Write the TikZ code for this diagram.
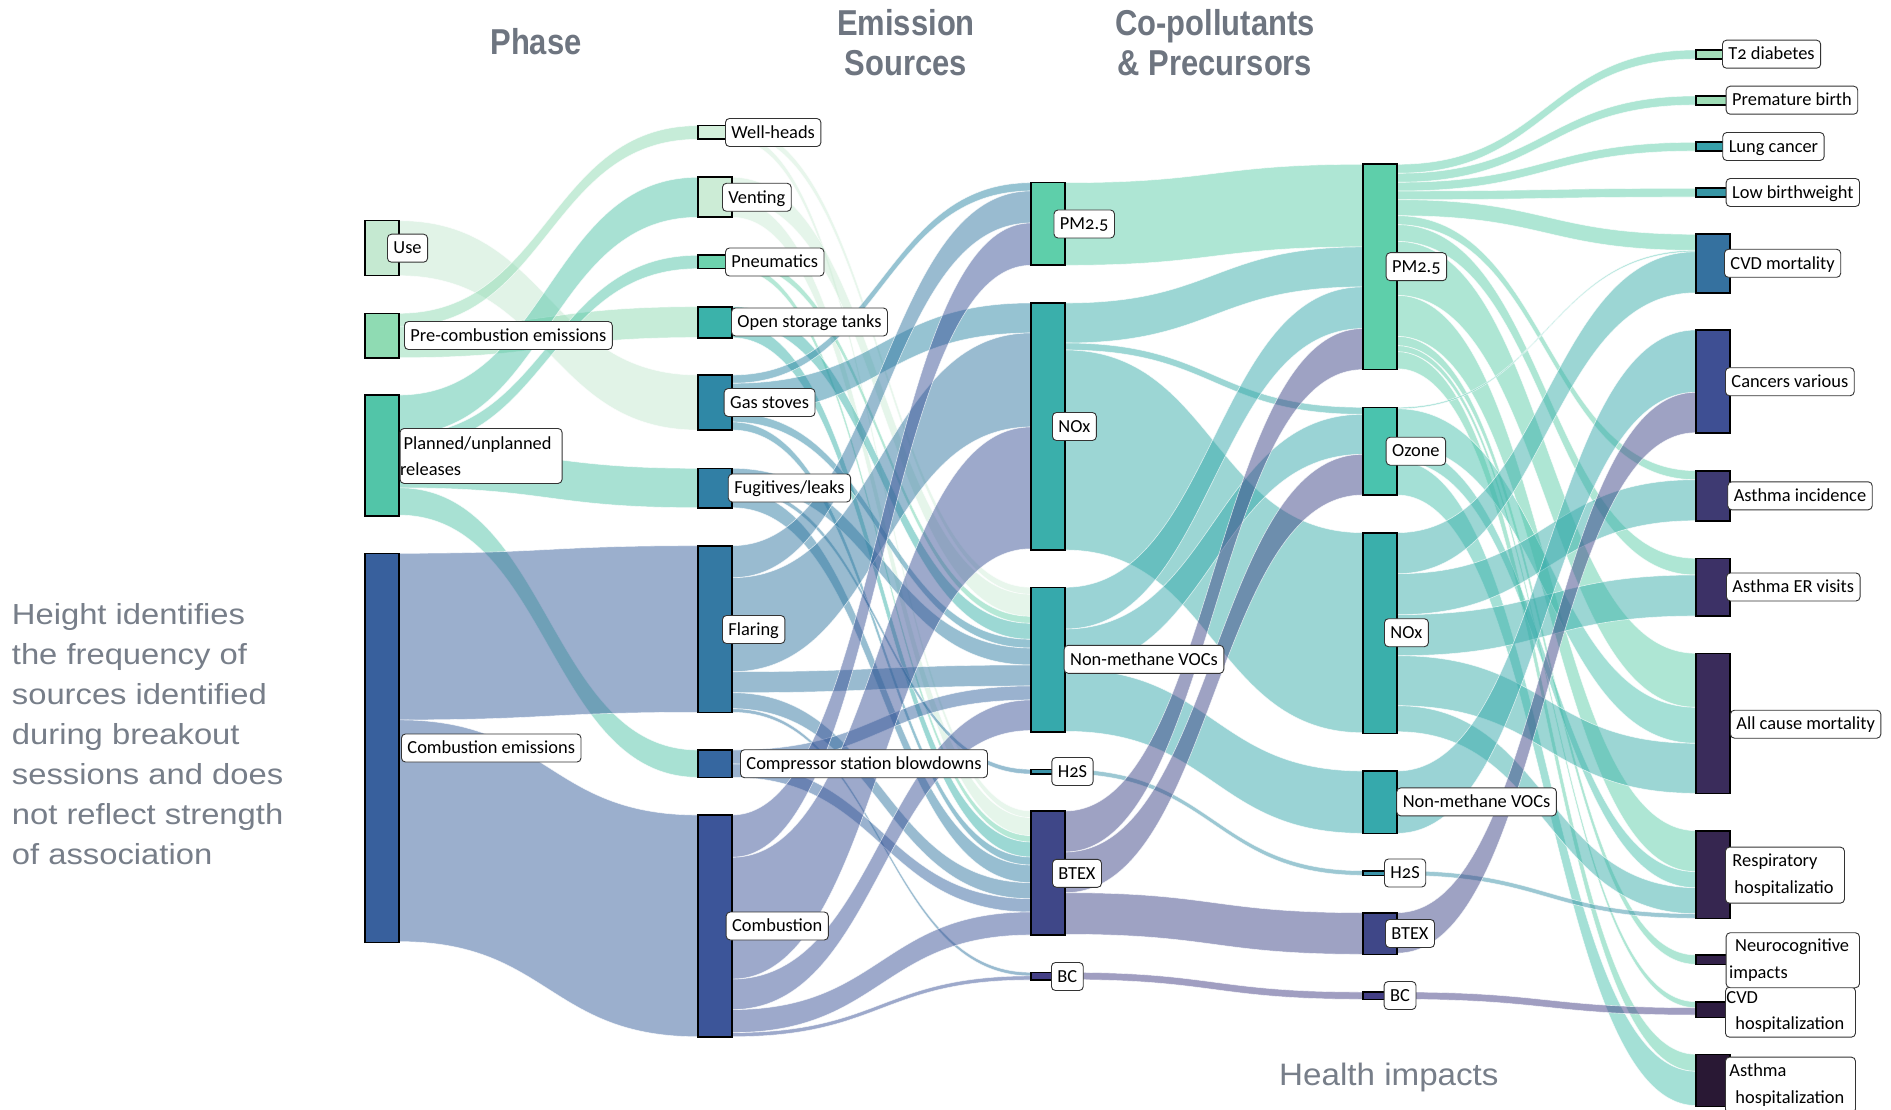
\documentclass[tikz,border=0pt]{standalone}
\usepackage{fontspec}
\setmainfont{Carlito}[Numbers=OldStyle]
\newfontfamily\ttlfont[FakeStretch=0.86]{Liberation Sans}
\newfontfamily\notefont[FakeStretch=1.07]{Liberation Sans}
\newfontfamily\leftnotefont[FakeStretch=1.13]{Liberation Sans}
\usetikzlibrary{calc}
\pgfdeclarelayer{bg}
\pgfdeclarelayer{links}
\pgfsetlayers{bg,links,main}
% node colours
\definecolor{cUse}{HTML}{C5E9D1}\definecolor{cPre}{HTML}{8FDBB3}
\definecolor{cPlan}{HTML}{52C5A8}\definecolor{cCemi}{HTML}{38609D}
\definecolor{cWell}{HTML}{D3EFDB}\definecolor{cVent}{HTML}{CCECD6}
\definecolor{cPneu}{HTML}{6DD3AE}\definecolor{cOpen}{HTML}{3BB2AA}
\definecolor{cGas}{HTML}{2F88A6}\definecolor{cFug}{HTML}{317FA5}
\definecolor{cFlar}{HTML}{3479A3}\definecolor{cComp}{HTML}{3667A0}
\definecolor{cComb}{HTML}{3C5599}
\definecolor{cPM}{HTML}{5ECFAA}\definecolor{cNOx}{HTML}{3AAFAB}
\definecolor{cVOC}{HTML}{36A9AC}\definecolor{cHS}{HTML}{3A93A8}
\definecolor{cBT}{HTML}{3F4788}\definecolor{cBC}{HTML}{433E85}
\definecolor{cOz}{HTML}{4AC3AE}
\definecolor{cT2}{HTML}{A5DFBA}\definecolor{cPB}{HTML}{9EDDB6}
\definecolor{cLC}{HTML}{36A0A9}\definecolor{cLBW}{HTML}{3795A4}
\definecolor{cCVDm}{HTML}{35719F}\definecolor{cCanc}{HTML}{3E4F93}
\definecolor{cAI}{HTML}{3E3A72}\definecolor{cAER}{HTML}{3C3166}
\definecolor{cACM}{HTML}{3A2C5B}\definecolor{cResp}{HTML}{362650}
\definecolor{cNeuro}{HTML}{33214A}\definecolor{cCVDh}{HTML}{2D1C40}
\definecolor{cAH}{HTML}{291834}
\definecolor{ttlgray}{HTML}{6E7580}
\definecolor{notegray}{HTML}{777E89}
% sankey band: source, offset, target, offset, width, colour
\newcommand\sklink[6]{%
  \path ($(#1.north east)+(0,#2)$) coordinate (sa)
        ($(#1.north east)+(0,#2+#5)$) coordinate (sb)
        ($(#3.north west)+(0,#4)$) coordinate (ta)
        ($(#3.north west)+(0,#4+#5)$) coordinate (tb)
        ($(sa)!0.5!(ta)$) coordinate (mm);
  \fill[#6, fill opacity=0.5] (sa) .. controls (mm |- sa) and (mm |- ta) .. (ta)
     -- (tb) .. controls (mm |- tb) and (mm |- sb) .. (sb) -- cycle;
  \draw[white, line width=0.6pt, draw opacity=0.7]
     (sa) .. controls (mm |- sa) and (mm |- ta) .. (ta)
     (sb) .. controls (mm |- sb) and (mm |- tb) .. (tb);
}
\begin{document}
\begin{tikzpicture}[x=1pt,y=-1pt,
  nd/.style={draw=black, line width=1.6pt, inner sep=0pt, outer sep=0pt,
             minimum width=34pt, anchor=north west},
  lbl/.style={draw=black!80, fill=white, rounded corners=4pt, line width=0.9pt,
              inner xsep=6pt, inner ysep=4.75pt, text height=15pt, text depth=3.5pt,
              anchor=west, font=\fontsize{18.4}{27}\selectfont},
  lbltwo/.style={draw=black!80, fill=white, rounded corners=4pt, line width=0.9pt,
              inner xsep=0pt, inner ysep=0pt, anchor=north west, align=left,
              font=\fontsize{18.4}{26.5}\selectfont},
  ttl/.style={inner sep=0pt, anchor=base, text=ttlgray,
              font=\ttlfont\fontsize{36}{40}\selectfont\bfseries}]
\begin{pgfonlayer}{bg}
\fill[white] (0,0) rectangle (1891,1110);
\end{pgfonlayer}
\useasboundingbox (0,0) rectangle (1891,1110);

% ---------- nodes: column 1 ----------
\node[nd, fill=cUse, minimum height=55pt] (use) at (365,220.7) {};
\node[nd, fill=cPre, minimum height=44.4pt] (pre) at (365,313.3) {};
\node[nd, fill=cPlan, minimum height=120.7pt] (plan) at (365,395) {};
\node[nd, fill=cCemi, minimum height=389pt] (cemi) at (365,553.3) {};
% column 2
\node[nd, fill=cWell, minimum height=13.6pt] (well) at (698,125.7) {};
\node[nd, fill=cVent, minimum height=40pt] (vent) at (698,177.3) {};
\node[nd, fill=cPneu, minimum height=13.4pt] (pneu) at (698,255.3) {};
\node[nd, fill=cOpen, minimum height=31pt] (open) at (698,306.7) {};
\node[nd, fill=cGas, minimum height=55pt] (gas) at (698,375) {};
\node[nd, fill=cFug, minimum height=39.4pt] (fug) at (698,468.3) {};
\node[nd, fill=cFlar, minimum height=166.6pt] (flar) at (698,545.7) {};
\node[nd, fill=cComp, minimum height=27.3pt] (comp) at (698,750) {};
\node[nd, fill=cComb, minimum height=221.7pt] (comb) at (698,815) {};
% column 3
\node[nd, fill=cPM, minimum height=82.6pt] (pma) at (1031,182.7) {};
\node[nd, fill=cNOx, minimum height=247pt] (noxa) at (1031,303) {};
\node[nd, fill=cVOC, minimum height=144.4pt] (voca) at (1031,587.3) {};
\node[nd, fill=cHS, minimum height=4.7pt] (hsa) at (1031,769.3) {};
\node[nd, fill=cBT, minimum height=124pt] (bta) at (1031,811) {};
\node[nd, fill=cBC, minimum height=7.7pt] (bca) at (1031,972.3) {};
% column 4
\node[nd, fill=cPM, minimum height=205pt] (pmb) at (1363,164.3) {};
\node[nd, fill=cOz, minimum height=87.7pt] (oz) at (1363,407.3) {};
\node[nd, fill=cNOx, minimum height=200.6pt] (noxb) at (1363,532.7) {};
\node[nd, fill=cVOC, minimum height=62.3pt] (vocb) at (1363,771) {};
\node[nd, fill=cHS, minimum height=4.6pt] (hsb) at (1363,870.7) {};
\node[nd, fill=cBT, minimum height=41.6pt] (btb) at (1363,912.7) {};
\node[nd, fill=cBC, minimum height=7.3pt] (bcb) at (1363,992) {};
% column 5
\node[nd, fill=cT2, minimum height=9pt] (t2) at (1696,50) {};
\node[nd, fill=cPB, minimum height=9pt] (pb) at (1696,96) {};
\node[nd, fill=cLC, minimum height=8.7pt] (lc) at (1696,142.3) {};
\node[nd, fill=cLBW, minimum height=8.7pt] (lbw) at (1696,188.3) {};
\node[nd, fill=cCVDm, minimum height=58.4pt] (cvdm) at (1696,234.3) {};
\node[nd, fill=cCanc, minimum height=102.7pt] (canc) at (1696,330) {};
\node[nd, fill=cAI, minimum height=50pt] (ai) at (1696,470.7) {};
\node[nd, fill=cAER, minimum height=57.7pt] (aer) at (1696,558.3) {};
\node[nd, fill=cACM, minimum height=140pt] (acm) at (1696,653.3) {};
\node[nd, fill=cResp, minimum height=87.6pt] (resp) at (1696,830.7) {};
\node[nd, fill=cNeuro, minimum height=9.3pt] (neuro) at (1696,955) {};
\node[nd, fill=cCVDh, minimum height=15.6pt] (cvdh) at (1696,1001.7) {};
\node[nd, fill=cAH, minimum height=52pt] (ah) at (1696,1054.3) {};

% ---------- links ----------
\begin{pgfonlayer}{links}
% phase -> sources
\sklink{use}{0}{gas}{0}{55}{cUse}
\sklink{pre}{0}{well}{0}{13.6}{cPre}
\sklink{pre}{13.6}{open}{0}{30.8}{cPre}
\sklink{plan}{0}{vent}{0}{40}{cPlan}
\sklink{plan}{40}{pneu}{0}{13.4}{cPlan}
\sklink{plan}{53.4}{fug}{0}{39.4}{cPlan}
\sklink{plan}{92.8}{comp}{0}{27.3}{cPlan}
\sklink{cemi}{0}{flar}{0}{166.6}{cCemi}
\sklink{cemi}{166.6}{comb}{0}{221.7}{cCemi}
% sources -> co-pollutants
\sklink{well}{0}{voca}{0}{7}{cWell}
\sklink{well}{7}{bta}{0}{6.6}{cWell}
\sklink{vent}{0}{voca}{7}{22}{cVent}
\sklink{vent}{22}{bta}{6.6}{18}{cVent}
\sklink{pneu}{0}{voca}{29}{7}{cPneu}
\sklink{pneu}{7}{bta}{24.6}{6.4}{cPneu}
\sklink{open}{0}{voca}{36}{16}{cOpen}
\sklink{open}{16}{bta}{31}{15}{cOpen}
\sklink{gas}{0}{pma}{0}{8.3}{cGas}
\sklink{gas}{8.3}{noxa}{0}{30}{cGas}
\sklink{gas}{38.3}{voca}{52}{8.7}{cGas}
\sklink{gas}{47}{bta}{46}{8}{cGas}
\sklink{fug}{0}{voca}{60.7}{17}{cFug}
\sklink{fug}{17}{hsa}{0}{4.7}{cFug}
\sklink{fug}{21.7}{bta}{54}{17.7}{cFug}
\sklink{flar}{0}{pma}{8.3}{32}{cFlar}
\sklink{flar}{32}{noxa}{30}{94}{cFlar}
\sklink{flar}{126}{voca}{77.7}{21}{cFlar}
\sklink{flar}{147}{bta}{71.7}{16}{cFlar}
\sklink{flar}{163}{bca}{0}{3.6}{cFlar}
\sklink{comp}{0}{voca}{98.7}{14}{cComp}
\sklink{comp}{14}{bta}{87.7}{13.3}{cComp}
\sklink{comb}{0}{pma}{40.3}{42.3}{cComb}
\sklink{comb}{42.3}{noxa}{124}{121.8}{cComb}
\sklink{comb}{164.1}{voca}{112.7}{30.5}{cComb}
\sklink{comb}{194.6}{bta}{101}{23}{cComb}
\sklink{comb}{217.6}{bca}{3.6}{4.1}{cComb}
% co-pollutants -> precursors
\sklink{pma}{0}{pmb}{0}{82.6}{cPM}
\sklink{noxa}{0}{pmb}{82.6}{40}{cNOx}
\sklink{noxa}{40}{oz}{0}{7}{cNOx}
\sklink{noxa}{47}{noxb}{0}{200}{cNOx}
\sklink{voca}{0}{pmb}{122.6}{41.7}{cVOC}
\sklink{voca}{41.7}{oz}{7}{40}{cVOC}
\sklink{voca}{81.7}{vocb}{0}{62.3}{cVOC}
\sklink{hsa}{0}{hsb}{0}{4.6}{cHS}
\sklink{bta}{0}{pmb}{164.3}{41}{cBT}
\sklink{bta}{41}{oz}{47}{40.7}{cBT}
\sklink{bta}{81.7}{btb}{0}{41.6}{cBT}
\sklink{bca}{0}{bcb}{0}{7.3}{cBC}
% precursors -> health
\sklink{pmb}{0}{t2}{0}{9}{cPM}
\sklink{pmb}{9}{pb}{0}{9}{cPM}
\sklink{pmb}{18}{lc}{0}{8.7}{cPM}
\sklink{pmb}{26.7}{lbw}{0}{8.7}{cPM}
\sklink{pmb}{35.4}{cvdm}{0}{16}{cPM}
\sklink{pmb}{51.4}{ai}{0}{9}{cPM}
\sklink{pmb}{60.4}{aer}{0}{16.7}{cPM}
\sklink{pmb}{77.1}{acm}{0}{54}{cPM}
\sklink{pmb}{131.1}{resp}{0}{41}{cPM}
\sklink{pmb}{172.1}{neuro}{0}{9.3}{cPM}
\sklink{pmb}{181.4}{cvdh}{0}{6}{cPM}
\sklink{pmb}{187.4}{ah}{0}{17}{cPM}
\sklink{oz}{0}{cvdm}{16}{1.5}{cOz}
\sklink{oz}{1.5}{acm}{54}{36}{cOz}
\sklink{oz}{37.5}{resp}{41}{16}{cOz}
\sklink{oz}{53.5}{ah}{17}{34.2}{cOz}
\sklink{noxb}{0}{cvdm}{17.5}{41}{cNOx}
\sklink{noxb}{41}{ai}{9}{41}{cNOx}
\sklink{noxb}{82}{aer}{16.7}{41}{cNOx}
\sklink{noxb}{123}{acm}{90}{50}{cNOx}
\sklink{noxb}{173}{resp}{57}{26}{cNOx}
\sklink{vocb}{0}{canc}{0}{62.3}{cVOC}
\sklink{hsb}{0}{resp}{83}{4.6}{cHS}
\sklink{btb}{0}{canc}{62.3}{40.4}{cBT}
\sklink{bcb}{0}{cvdh}{6}{7.3}{cBC}
\end{pgfonlayer}

% ---------- labels ----------
\node[lbl] (l-use) at (387,248.2) {Use};
\node[lbl] (l-pre) at (404,335.5) {Pre-combustion emissions};
\node[lbltwo, text width=162pt, minimum height=55pt] (l-plan) at (399.6,428) {\hspace*{3.5pt}Planned/unplanned\\releases};
\node[lbl] (l-cemi) at (401,748) {Combustion emissions};
\node[lbl] (l-well) at (725,132.5) {Well-heads};
\node[lbl] (l-vent) at (722,197.3) {Venting};
\node[lbl] (l-pneu) at (725,262) {Pneumatics};
\node[lbl] (l-open) at (731,322) {Open storage tanks};
\node[lbl] (l-gas) at (723.7,402.5) {Gas stoves};
\node[lbl] (l-fug) at (727.8,488) {Fugitives/leaks};
\node[lbl] (l-flar) at (722,629.5) {Flaring};
\node[lbl] (l-comp) at (740,763.7) {Compressor station blowdowns};
\node[lbl] (l-comb) at (725.7,926) {Combustion};
\node[lbl] (l-pma) at (1053.5,224) {PM2.5};
\node[lbl] (l-noxa) at (1052,426.5) {NOx};
\node[lbl] (l-voca) at (1063.7,659.3) {Non-methane VOCs};
\node[lbl] (l-hsa) at (1051.4,771.5) {H2S};
\node[lbl] (l-bta) at (1052,873.3) {BTEX};
\node[lbl] (l-bca) at (1051,976.5) {BC};
\node[lbl] (l-pmb) at (1385.7,266.7) {PM2.5};
\node[lbl] (l-oz) at (1385.7,451.2) {Ozone};
\node[lbl] (l-noxb) at (1384,632.7) {NOx};
\node[lbl] (l-vocb) at (1396.3,801.9) {Non-methane VOCs};
\node[lbl] (l-hsb) at (1384,873) {H2S};
\node[lbl] (l-btb) at (1385,933.5) {BTEX};
\node[lbl] (l-bcb) at (1383.7,995.5) {BC};
\node[lbl] (l-t2) at (1722,54.2) {T2 diabetes};
\node[lbl] (l-pb) at (1725.7,100.2) {Premature birth};
\node[lbl] (l-lc) at (1722.3,146.5) {Lung cancer};
\node[lbl] (l-lbw) at (1725.7,192.5) {Low birthweight};
\node[lbl] (l-cvdm) at (1724,263.3) {CVD mortality};
\node[lbl] (l-canc) at (1725,381.7) {Cancers various};
\node[lbl] (l-ai) at (1727.3,495.8) {Asthma incidence};
\node[lbl] (l-aer) at (1726,587) {Asthma ER visits};
\node[lbl] (l-acm) at (1730,724.2) {All cause mortality};
\node[lbltwo, text width=119pt, minimum height=56pt] (l-resp) at (1725,846.7) {\hspace*{7pt}Respiratory\\\hspace*{9pt}hospitalizatio};
\node[lbltwo, text width=130pt, minimum height=50pt] (l-cvdh) at (1725,986.7) {\hspace*{1pt}CVD\\\hspace*{10pt}hospitalization};
\node[lbltwo, text width=133.3pt, minimum height=55pt] (l-neuro) at (1725.7,932.3) {\hspace*{9pt}Neurocognitive\\\hspace*{3pt}impacts};
\node[lbltwo, text width=130pt, minimum height=56pt] (l-ah) at (1725,1056.7) {\hspace*{4pt}Asthma\\\hspace*{10pt}hospitalization};

% ---------- titles and notes ----------
\node[ttl] (t-phase) at (536,55) {Phase};
\node[ttl] (t-em1) at (906,36) {Emission};
\node[ttl] (t-em2) at (906,76) {Sources};
\node[ttl] (t-co1) at (1215,36) {Co-pollutants};
\node[ttl] (t-co2) at (1215,76) {\& Precursors};
\node[anchor=base west, inner sep=0pt, text=notegray,
      font=\notefont\fontsize{31}{36}\selectfont] (t-health) at (1279,1085) {Health impacts};
\node[anchor=north west, inner sep=0pt, align=left, text=notegray,
      font=\leftnotefont\fontsize{29}{40}\selectfont] (t-note) at (11.7,603)
  {Height identifies\\the frequency of\\sources identified\\during breakout\\sessions and does\\not reflect strength\\of association};
\end{tikzpicture}
\end{document}
